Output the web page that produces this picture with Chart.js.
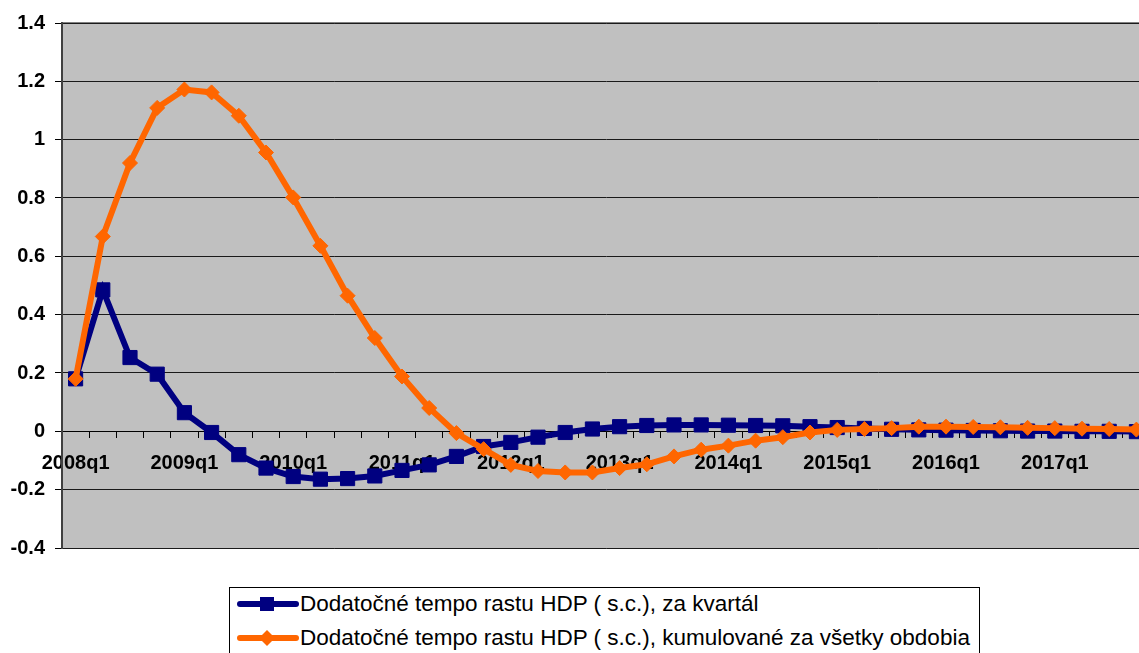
<!DOCTYPE html>
<html>
<head>
<meta charset="utf-8">
<script src="https://cdn.jsdelivr.net/npm/chart.js@4"></script>
<style>
  html, body { margin: 0; padding: 0; background: #fff; overflow: hidden; }
  #wrap { position: relative; width: 1139px; height: 653px; overflow: hidden; }
  #chart { position: absolute; left: 0; top: 0; }
  #legend {
    position: absolute; left: 229px; top: 587px; width: 749px; height: 80px;
    border: 1px solid #000; background: #fff;
    font-family: Arial, "Liberation Sans", sans-serif; font-size: 22.5px; color: #000;
  }
  .row { position: absolute; left: 7px; height: 26px; display: flex; align-items: center; white-space: nowrap; }
  .row svg { margin-right: 1px; }
</style>
</head>
<body>
<div id="wrap">
  <canvas id="chart" width="1150" height="560"></canvas>
  <div id="legend">
    <div class="row" style="top:3px">
      <svg width="62" height="20"><line x1="3" y1="10" x2="59" y2="10" stroke="#000080" stroke-width="6" stroke-linecap="round"/><rect x="23" y="3" width="14" height="14" fill="#000080"/></svg>
      <span>Dodatočné tempo rastu HDP ( s.c.), za kvartál</span>
    </div>
    <div class="row" style="top:37px">
      <svg width="62" height="20"><line x1="3" y1="10" x2="59" y2="10" stroke="#FF6600" stroke-width="6" stroke-linecap="round"/><polygon points="30,2 38,10 30,18 22,10" fill="#FF6600"/></svg>
      <span>Dodatočné tempo rastu HDP ( s.c.), kumulované za všetky obdobia</span>
    </div>
  </div>
</div>
<script>
const years = [2008, 2009, 2010, 2011, 2012, 2013, 2014, 2015, 2016, 2017];
const quarters = [];
years.forEach(y => { for (let q = 1; q <= 4; q++) quarters.push(y + 'q' + q); });

// za kvartal
const perQuarter = [
  0.18, 0.485, 0.253, 0.196, 0.064, -0.004, -0.08, -0.126,
  -0.155, -0.164, -0.162, -0.153, -0.134, -0.115, -0.086, -0.052,
  -0.038, -0.020, -0.004, 0.008, 0.016, 0.020, 0.022, 0.022,
  0.021, 0.020, 0.019, 0.016, 0.013, 0.010, 0.007, 0.005,
  0.004, 0.003, 0.002, 0.001, 0.001, 0.000, 0.000, -0.001
];

// kumulovane za vsetky obdobia
const cumulative = [
  0.18, 0.668, 0.92, 1.109, 1.172, 1.162, 1.082, 0.956,
  0.802, 0.636, 0.465, 0.32, 0.188, 0.080, -0.006, -0.061,
  -0.115, -0.136, -0.141, -0.141, -0.126, -0.113, -0.086, -0.063,
  -0.049, -0.032, -0.020, -0.004, 0.005, 0.008, 0.011, 0.016,
  0.016, 0.015, 0.014, 0.012, 0.011, 0.009, 0.008, 0.006
];

const yTicks = [-0.4, -0.2, 0, 0.2, 0.4, 0.6, 0.8, 1, 1.2, 1.4];

const plotBg = {
  id: 'plotBg',
  beforeDraw(chart) {
    const { ctx, chartArea: a } = chart;
    ctx.save();
    ctx.fillStyle = '#C0C0C0';
    ctx.fillRect(a.left, a.top, a.right - a.left, a.bottom - a.top);
    ctx.strokeStyle = '#808080';
    ctx.lineWidth = 2;
    ctx.beginPath();
    ctx.moveTo(a.left, a.top);
    ctx.lineTo(a.right, a.top);
    ctx.stroke();
    ctx.lineWidth = 1;
    ctx.strokeStyle = '#9a9a9a';
    ctx.beginPath();
    ctx.moveTo(a.left, a.bottom + 0.5);
    ctx.lineTo(a.right, a.bottom + 0.5);
    ctx.stroke();
    ctx.restore();
  }
};

const fontBold = { family: 'Arial, "Liberation Sans", sans-serif', size: 20, weight: 'bold' };

new Chart(document.getElementById('chart'), {
  type: 'line',
  data: {
    labels: quarters,
    datasets: [
      {
        label: 'Dodatočné tempo rastu HDP ( s.c.), za kvartál',
        data: perQuarter,
        borderColor: '#000080',
        backgroundColor: '#000080',
        borderWidth: 6,
        pointStyle: 'rect',
        pointRadius: 10,
        pointBorderWidth: 1,
        tension: 0,
        order: 1
      },
      {
        label: 'Dodatočné tempo rastu HDP ( s.c.), kumulované za všetky obdobia',
        data: cumulative,
        borderColor: '#FF6600',
        backgroundColor: '#FF6600',
        borderWidth: 6,
        pointStyle: 'rectRot',
        pointRadius: 7.5,
        pointBorderWidth: 1,
        tension: 0,
        order: 0
      }
    ]
  },
  options: {
    responsive: false,
    animation: false,
    layout: { autoPadding: false, padding: { top: 23, bottom: 12, left: 0, right: 0 } },
    plugins: { legend: { display: false }, tooltip: { enabled: false } },
    scales: {
      x: {
        position: { y: 0 },
        offset: true,
        grid: { drawOnChartArea: false, drawTicks: true, tickLength: 6, color: '#000', offset: true },
        border: { color: '#000', width: 1 },
        ticks: {
          autoSkip: false,
          maxRotation: 0,
          padding: 14,
          color: '#000',
          font: fontBold,
          callback: (v, i) => (i % 4 === 0 ? quarters[i] : '')
        },
        afterFit: s => { s.paddingLeft = 0; s.paddingRight = 0; }
      },
      y: {
        min: -0.4,
        max: 1.4,
        afterBuildTicks: s => { s.ticks = yTicks.map(v => ({ value: v })); },
        grid: { color: '#1a1a1a', lineWidth: 1, tickLength: 7, tickColor: '#000' },
        border: { color: '#404040', width: 2 },
        ticks: {
          padding: 10,
          color: '#000',
          font: { family: 'Arial, "Liberation Sans", sans-serif', size: 20, weight: 'bold' },
          callback: v => String(Math.round(v * 10) / 10)
        },
        afterFit: s => { s.width = 62; s.paddingTop = 0; s.paddingBottom = 0; }
      }
    }
  },
  plugins: [plotBg]
});
</script>
</body>
</html>
